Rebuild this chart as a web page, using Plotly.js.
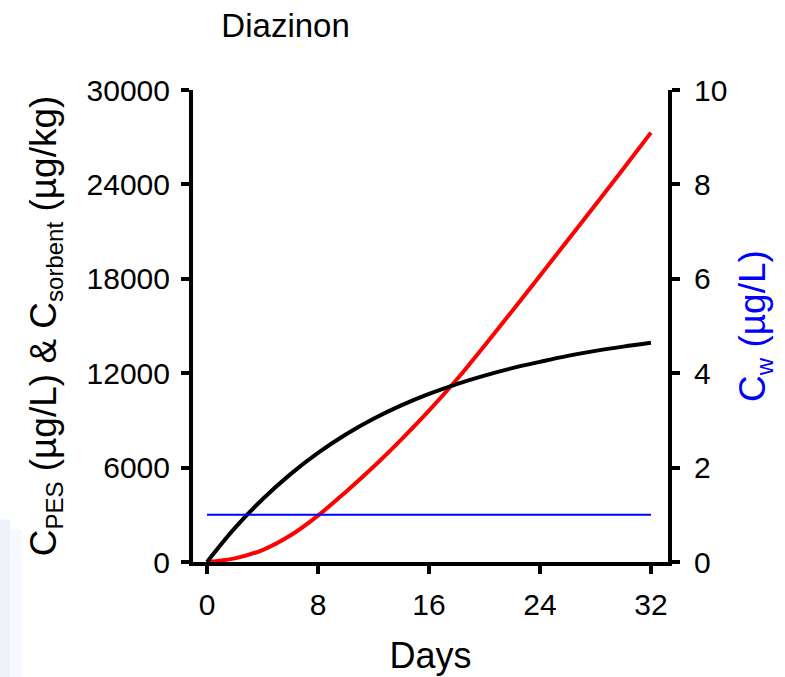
<!DOCTYPE html>
<html>
<head>
<meta charset="utf-8">
<script src="https://cdn.plot.ly/plotly-3.0.1.min.js"></script>
<style>
  html, body { margin: 0; padding: 0; background: #fff; }
  #chart { width: 785px; height: 677px; }
</style>
</head>
<body>
<div id="chart"></div>
<script>
// Days sampled along the curves
var days = [0, 2, 4, 6, 8, 10, 12, 14, 16, 18, 20, 22, 24, 26, 28, 30, 32];
// C_PES (µg/L) - black curve, left axis
var cPES = [0, 2150, 3990, 5570, 6930, 8100, 9100, 9950, 10680, 11310, 11850, 12320, 12720, 13100, 13420, 13690, 13930];
// C_sorbent (µg/kg) - red curve, left axis
var cSorbent = [0, 230, 760, 1680, 2950, 4450, 6050, 7780, 9620, 11600, 13750, 15950, 18200, 20450, 22700, 24980, 27290];
// C_w (µg/L) - blue line, right axis
var cwDays = [0, 32];
var cW = [1, 1];

var leftTicks = [0, 6000, 12000, 18000, 24000, 30000];
var rightTicks = [0, 2, 4, 6, 8, 10];
var xTicks = [0, 8, 16, 24, 32];

var FONT = 'Arial, "Liberation Sans", sans-serif';
function sub(t) { return '<sub><span style="font-size:24px">' + t + '</span></sub>'; }

var traces = [
  { x: days, y: cSorbent, type: 'scatter', mode: 'lines',
    line: { color: '#ff0000', width: 4, shape: 'spline', smoothing: 1 },
    hoverinfo: 'skip', showlegend: false },
  { x: days, y: cPES, type: 'scatter', mode: 'lines',
    line: { color: '#000000', width: 4, shape: 'spline', smoothing: 1 },
    hoverinfo: 'skip', showlegend: false },
  { x: cwDays, y: cW, type: 'scatter', mode: 'lines', yaxis: 'y2',
    line: { color: '#0000ff', width: 2 },
    hoverinfo: 'skip', showlegend: false }
];

var layout = {
  width: 785, height: 677,
  margin: { l: 193, r: 117, t: 90, b: 115 },
  paper_bgcolor: '#ffffff', plot_bgcolor: '#ffffff',
  font: { family: FONT, color: '#000', size: 30 },
  title: {
    text: 'Diazinon', xref: 'container', yref: 'container',
    x: 0.282, xanchor: 'left', y: 0.963, yanchor: 'middle',
    font: { family: FONT, size: 33, color: '#000' }
  },
  xaxis: {
    range: [-1.01, 33.23], tickvals: xTicks, ticktext: xTicks.map(String),
    showline: true, linecolor: '#000', linewidth: 4, mirror: false,
    ticks: 'outside', ticklen: 8, tickwidth: 4, tickcolor: '#000',
    showgrid: false, zeroline: false, ticklabelstandoff: 5,
    tickfont: { family: FONT, size: 30, color: '#000' },
    title: { text: 'Days', standoff: 24, font: { family: FONT, size: 36, color: '#000' } },
    fixedrange: true
  },
  yaxis: {
    range: [0, 30000], tickvals: leftTicks, ticktext: leftTicks.map(String),
    showline: true, linecolor: '#000', linewidth: 4,
    ticks: 'outside', ticklen: 8, tickwidth: 4, tickcolor: '#000',
    showgrid: false, zeroline: false, ticklabelstandoff: 5,
    tickfont: { family: FONT, size: 30, color: '#000' },
    title: { text: 'C' + sub('PES') + ' (µg/L) & C' + sub('sorbent') + ' (µg/kg)', standoff: 20,
             font: { family: FONT, size: 37, color: '#000' } },
    fixedrange: true
  },
  yaxis2: {
    overlaying: 'y', side: 'right',
    range: [0, 10], tickvals: rightTicks, ticktext: rightTicks.map(String),
    showline: true, linecolor: '#000', linewidth: 4,
    ticks: 'outside', ticklen: 8, tickwidth: 4, tickcolor: '#000',
    showgrid: false, zeroline: false, ticklabelstandoff: 8,
    tickfont: { family: FONT, size: 30, color: '#000' },
    title: { text: 'C' + sub('w') + ' (µg/L)', standoff: 14,
             font: { family: FONT, size: 37, color: '#0000ff' } },
    fixedrange: true
  },
  shapes: [
    { type: 'rect', xref: 'paper', yref: 'paper', layer: 'below',
      x0: -0.406, x1: -0.385, y0: -0.244, y1: 0.09,
      fillcolor: '#edf2fa', line: { width: 0 } },
    { type: 'rect', xref: 'paper', yref: 'paper', layer: 'below',
      x0: -0.385, x1: -0.36, y0: -0.244, y1: 0.07,
      fillcolor: '#f6f9fd', line: { width: 0 } }
  ]
};

Plotly.newPlot('chart', traces, layout, { displayModeBar: false, staticPlot: true });
</script>
</body>
</html>
